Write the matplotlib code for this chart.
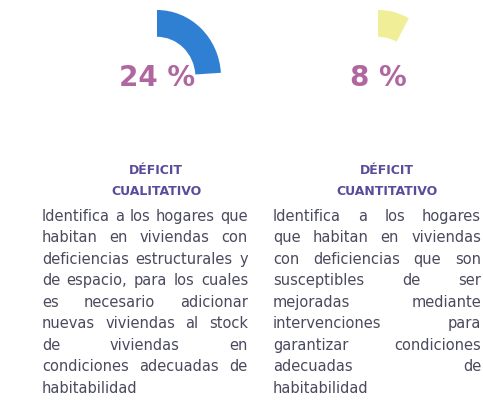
import matplotlib.pyplot as plt

# datos
porcentajes = [24, 8]
colores = ['#2f80d3', '#f1ee98']
etiquetas = ['24 %', '8 %']
titulos = [['DÉFICIT', 'CUALITATIVO'], ['DÉFICIT', 'CUANTITATIVO']]
textos = [
    ['Identifica a los hogares que',
     'habitan en viviendas con',
     'deficiencias estructurales y',
     'de espacio, para los cuales',
     'es necesario adicionar',
     'nuevas viviendas al stock',
     'de viviendas en',
     'condiciones adecuadas de',
     'habitabilidad'],
    ['Identifica a los hogares',
     'que habitan en viviendas',
     'con deficiencias que son',
     'susceptibles de ser',
     'mejoradas mediante',
     'intervenciones para',
     'garantizar condiciones',
     'adecuadas de',
     'habitabilidad'],
]

W, H = 483, 415
fig = plt.figure(figsize=(W / 100, H / 100), dpi=100)
ax = fig.add_axes([0, 0, 1, 1])
ax.set_xlim(0, W)
ax.set_ylim(H, 0)
ax.axis('off')

centros = [157, 378]
titulo_x = [156, 387]
col_x = [(42, 248), (273, 481)]
fuente = 'DejaVu Sans'

for i, p in enumerate(porcentajes):
    cx = centros[i]
    cy = 77
    rx, ry = 64, 67
    pax = fig.add_axes([(cx - rx) / W, (H - cy - ry) / H, 2 * rx / W, 2 * ry / H])
    pax.pie([p, 100 - p], colors=[colores[i], 'none'], startangle=90,
            counterclock=False, radius=1, wedgeprops=dict(width=0.4, linewidth=0))
    pax.set_xlim(-1, 1)
    pax.set_ylim(-1, 1)
    pax.set_aspect('auto')
    pax.axis('off')

    ax.text(centros[i], 78, etiquetas[i], ha='center', va='center', fontsize=20,
            fontweight='bold', color='#b0679f', family=fuente)
    ax.text(titulo_x[i], 170, titulos[i][0], ha='center', va='center', fontsize=9,
            fontweight='bold', color='#5b4b9b', family=fuente)
    ax.text(titulo_x[i], 191, titulos[i][1], ha='center', va='center', fontsize=9,
            fontweight='bold', color='#5b4b9b', family=fuente)

# texto justificado
renderer = fig.canvas.get_renderer()
for i, lineas in enumerate(textos):
    x0, x1 = col_x[i]
    for j, linea in enumerate(lineas):
        y = 216 + j * 21.5
        palabras = linea.split()
        objs = [ax.text(0, y, w, ha='left', va='center', fontsize=10.5,
                        color='#4a4a5e', family=fuente) for w in palabras]
        anchos = [t.get_window_extent(renderer).width for t in objs]
        if j == len(lineas) - 1 or len(palabras) == 1:
            gap = 5
        else:
            gap = (x1 - x0 - sum(anchos)) / (len(palabras) - 1)
        x = x0
        for t, a in zip(objs, anchos):
            t.set_x(x)
            x += a + gap

fig.savefig('out.png', dpi=100)
